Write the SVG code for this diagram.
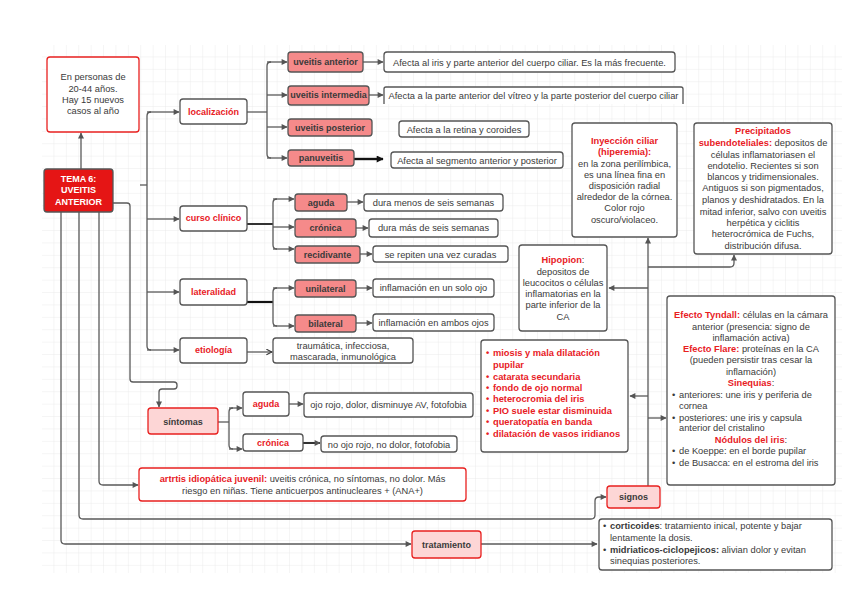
<svg xmlns="http://www.w3.org/2000/svg" width="848" height="599" viewBox="0 0 848 599">
<defs>
<pattern id="grid" x="42" y="45" width="12.4" height="12.4" patternUnits="userSpaceOnUse">
<path d="M12.4,0 V12.4 H0" fill="none" stroke="#e6e6e6" stroke-width="0.8"/>
</pattern>
<marker id="ar" viewBox="0 0 10 10" refX="9" refY="5" markerWidth="7" markerHeight="6" markerUnits="userSpaceOnUse" orient="auto">
<path d="M0,0 L10,5 L0,10 z" fill="#555"/>
</marker>
<marker id="arb" viewBox="0 0 10 10" refX="9" refY="5" markerWidth="8" markerHeight="7" markerUnits="userSpaceOnUse" orient="auto">
<path d="M0,0 L10,5 L0,10 z" fill="#111"/>
</marker>
<marker id="aro" viewBox="0 0 10 10" refX="9" refY="5" markerWidth="7" markerHeight="7" markerUnits="userSpaceOnUse" orient="auto">
<path d="M1,1 L9,5 L1,9" fill="none" stroke="#333" stroke-width="1.5"/>
</marker>
<style>
.t{font-family:"Liberation Sans",Arial,sans-serif;font-size:9.3px;fill:#3a3a3a}
.c{text-anchor:middle}
.r{fill:#e8201f;font-weight:bold}
.b{font-weight:bold}
.lb{font-weight:bold;font-size:9px}
.w{fill:#fff;font-weight:bold;font-size:9px}
.box{fill:#fff;stroke:#555;stroke-width:1.3}
.rbox{fill:#fff;stroke:#e8201f;stroke-width:1.3}
.sal{fill:#f58a8a;stroke:#555;stroke-width:1.3}
.pink{fill:#fdd6d6;stroke:#e8201f;stroke-width:1.3}
.ln{fill:none;stroke:#5a5a5a;stroke-width:1.3}
.ln2{fill:none;stroke:#333;stroke-width:2}
</style>
</defs>
<rect width="848" height="599" fill="#fff"/>
<rect x="42" y="45" width="800" height="528" fill="url(#grid)"/>

<g id="connectors">
<path class="ln" d="M81,169 V133" marker-end="url(#ar)"/>
<path class="ln" d="M140,185 H147"/>
<path class="ln" d="M151,112 Q147,112 147,116 V346 Q147,350 151,350"/>
<path class="ln" d="M147,112 H179" marker-end="url(#ar)"/>
<path class="ln" d="M147,219 H179" marker-end="url(#ar)"/>
<path class="ln" d="M147,292 H179" marker-end="url(#ar)"/>
<path class="ln" d="M147,350 H179" marker-end="url(#ar)"/>
<path class="ln" d="M247,112 H267"/>
<path class="ln" d="M271,62 Q267,62 267,66 V154 Q267,158 271,158"/>
<path class="ln" d="M267,62 H287" marker-end="url(#ar)"/>
<path class="ln" d="M267,95 H287" marker-end="url(#ar)"/>
<path class="ln" d="M267,127 H287" marker-end="url(#ar)"/>
<path class="ln" d="M267,158 H287" marker-end="url(#ar)"/>
<path class="ln" d="M363,62 H383" marker-end="url(#ar)"/>
<path class="ln" d="M369,95 H383" marker-end="url(#ar)"/>
<path d="M354,159 H383" fill="none" stroke="#111" stroke-width="2.4" marker-end="url(#arb)"/>
<path class="ln2" d="M247,224 H273"/>
<path class="ln" d="M277,199 Q273,199 273,203 V245 Q273,249 277,249"/>
<path class="ln" d="M273,199 H294" marker-end="url(#ar)"/>
<path class="ln" d="M273,227 H294" marker-end="url(#ar)"/>
<path class="ln" d="M273,249 H294" marker-end="url(#ar)"/>
<path class="ln" d="M347,202 H363" marker-end="url(#ar)"/>
<path class="ln" d="M356,228 H368" marker-end="url(#ar)"/>
<path class="ln" d="M360,254 H372" marker-end="url(#ar)"/>
<path d="M247,302 H273" fill="none" stroke="#111" stroke-width="2.2"/>
<path class="ln" d="M277,288 Q273,288 273,292 V322 Q273,326 277,326"/>
<path class="ln" d="M273,288 H294" marker-end="url(#ar)"/>
<path class="ln" d="M273,326 H294" marker-end="url(#ar)"/>
<path class="ln" d="M356,288 H372" marker-end="url(#ar)"/>
<path class="ln" d="M356,323 H372" marker-end="url(#ar)"/>
<path class="ln" d="M247,352 H272" marker-end="url(#aro)"/>
<path class="ln" d="M113,203 H127 Q130,203 130,206 V379 Q130,382 133,382 H174 Q177,382 177,385 V386 Q177,389 174,389 H162 Q159,389 159,392 V407" marker-end="url(#ar)"/>
<path class="ln" d="M218,422 H229"/>
<path class="ln" d="M233,408 Q229,408 229,412 V445 Q229,449 233,449"/>
<path class="ln" d="M229,408 H242" marker-end="url(#ar)"/>
<path class="ln" d="M229,449 H242" marker-end="url(#ar)"/>
<path class="ln" d="M289,404 H303" marker-end="url(#ar)"/>
<path class="ln2" d="M303,443 H320" marker-end="url(#ar)"/>
<path class="ln" d="M99,212 V481 Q99,485 103,485 H138" marker-end="url(#ar)"/>
<path class="ln" d="M79,212 V515 Q79,519 83,519 H591 Q595,519 595,515 V501 Q595,497 599,497 H606" marker-end="url(#ar)"/>
<path class="ln" d="M61,212 V540 Q61,544 65,544 H411" marker-end="url(#ar)"/>
<path class="ln" d="M481,544 H597" marker-end="url(#ar)"/>
<path class="ln" d="M648,486 V238" marker-end="url(#ar)"/>
<path class="ln" d="M648,267 H730 Q734,267 734,263 V255" marker-end="url(#ar)"/>
<path class="ln" d="M648,288 H609" marker-end="url(#ar)"/>
<path class="ln" d="M648,396 H630" marker-end="url(#ar)"/>
<path class="ln" d="M648,418 H666" marker-end="url(#ar)"/>
</g>

<g id="n-info">
<rect class="rbox" x="47" y="57" width="92" height="75" rx="3"/>
<text class="t c" font-size="9.8"><tspan x="93" y="80">En personas de</tspan><tspan x="93" y="92">20-44 años.</tspan><tspan x="93" y="103">Hay 15 nuevos</tspan><tspan x="93" y="114">casos al año</tspan></text>
</g>
<g id="n-tema">
<rect x="44" y="169" width="69" height="43" rx="3" fill="#e51515" stroke="#555" stroke-width="1.3"/>
<text class="t c w"><tspan x="78.5" y="181.5">TEMA 6:</tspan><tspan x="78.5" y="193">UVEITIS</tspan><tspan x="78.5" y="204.5">ANTERIOR</tspan></text>
</g>
<g id="n-localizacion"><rect class="box" x="180" y="99" width="67" height="25" rx="3"/><text class="t c r lb" x="213.5" y="115">localización</text></g>
<g id="n-curso"><rect class="box" x="180" y="206" width="67" height="25" rx="3"/><text class="t c r lb" x="213.5" y="221">curso clínico</text></g>
<g id="n-lateralidad"><rect class="box" x="180" y="279" width="67" height="26" rx="3"/><text class="t c r lb" x="213.5" y="295">lateralidad</text></g>
<g id="n-etiologia"><rect class="box" x="180" y="338" width="67" height="25" rx="3"/><text class="t c r lb" x="213.5" y="353">etiología</text></g>

<g id="n-uant"><rect class="sal" x="288" y="52" width="75" height="20" rx="3"/><text class="t c lb" x="325.5" y="65">uveitis anterior</text></g>
<g id="n-uint"><rect class="sal" x="288" y="86" width="81" height="19" rx="3"/><text class="t c lb" x="328.5" y="98">uveitis intermedia</text></g>
<g id="n-upos"><rect class="sal" x="288" y="119" width="84" height="17" rx="3"/><text class="t c lb" x="330" y="130.5">uveitis posterior</text></g>
<g id="n-pan"><rect class="sal" x="288" y="150" width="66" height="16" rx="3"/><text class="t c lb" x="321" y="161">panuveitis</text></g>

<g id="d-uant"><rect class="box" x="384" y="52" width="291" height="20" rx="3"/><text class="t c" x="529.5" y="65.5">Afecta al iris y parte anterior del cuerpo ciliar. Es la más frecuente.</text></g>
<g id="d-uint"><path d="M384,104 V89 Q384,87 386,87 H681 Q683,87 683,89 V104" fill="#fff" stroke="#555" stroke-width="1.3"/><text class="t c" x="533.5" y="98.5" font-size="9.1">Afecta a la parte anterior del vítreo y la parte posterior del cuerpo ciliar</text></g>
<g id="d-upos"><rect class="box" x="399" y="121" width="130" height="16" rx="3"/><text class="t c" x="464" y="132.5">Afecta a la retina y coroides</text></g>
<g id="d-pan"><rect class="box" x="391" y="152" width="172" height="16" rx="3"/><text class="t c" x="477" y="163.5">Afecta al segmento anterior y posterior</text></g>

<g id="n-inyeccion">
<rect class="box" x="572" y="123" width="105" height="114" rx="3"/>
<text class="t c"><tspan class="r" x="624.5" y="144">Inyección ciliar</tspan><tspan class="r" x="624.5" y="155">(hiperemia):</tspan><tspan x="624.5" y="167">en la zona perilímbica,</tspan><tspan x="624.5" y="178">es una línea fina en</tspan><tspan x="624.5" y="189">disposición radial</tspan><tspan x="624.5" y="200">alrededor de la córnea.</tspan><tspan x="624.5" y="211">Color rojo</tspan><tspan x="624.5" y="223">oscuro/violaceo.</tspan></text>
</g>
<g id="n-precipitados">
<rect class="box" x="694" y="123" width="138" height="131" rx="3"/>
<text class="t c" font-size="8.8"><tspan class="r" x="763" y="134">Precipitados</tspan><tspan x="763" y="146"><tspan class="r">subendoteliales:</tspan> depositos de</tspan><tspan x="763" y="158">células inflamatoriasen el</tspan><tspan x="763" y="169">endotelio. Recientes si son</tspan><tspan x="763" y="180">blancos y tridimensionales.</tspan><tspan x="763" y="191">Antiguos si son pigmentados,</tspan><tspan x="763" y="203">planos y deshidratados. En la</tspan><tspan x="763" y="215">mitad inferior, salvo con uveitis</tspan><tspan x="763" y="226">herpética y ciclitis</tspan><tspan x="763" y="237">heterocrómica de Fuchs,</tspan><tspan x="763" y="249">distribución difusa.</tspan></text>
</g>
<g id="n-hipopion">
<rect class="box" x="519" y="245" width="88" height="86" rx="3"/>
<text class="t c" font-size="9.9"><tspan x="563" y="263"><tspan class="r">Hipopion</tspan>:</tspan><tspan x="563" y="275">depositos de</tspan><tspan x="563" y="286">leucocitos o células</tspan><tspan x="563" y="297">inflamatorias en la</tspan><tspan x="563" y="308">parte inferior de la</tspan><tspan x="563" y="320">CA</tspan></text>
</g>

<g id="n-aguda1"><rect class="sal" x="295" y="194" width="52" height="17" rx="3"/><text class="t c lb" x="321" y="205.5">aguda</text></g>
<g id="n-cronica1"><rect class="sal" x="295" y="219" width="61" height="18" rx="3"/><text class="t c lb" x="325.5" y="231">crónica</text></g>
<g id="n-recid"><rect class="sal" x="295" y="246" width="65" height="17" rx="3"/><text class="t c lb" x="327.5" y="257.5">recidivante</text></g>
<g id="d-aguda1"><rect class="box" x="364" y="194" width="139" height="17" rx="3"/><text class="t c" x="433.5" y="205.5">dura menos de seis semanas</text></g>
<g id="d-cronica1"><rect class="box" x="369" y="219" width="129" height="18" rx="3"/><text class="t c" x="433.5" y="231">dura más de seis semanas</text></g>
<g id="d-recid"><rect class="box" x="373" y="246" width="135" height="16" rx="3"/><text class="t c" x="440.5" y="257.5">se repiten una vez curadas</text></g>

<g id="n-unilat"><rect class="sal" x="295" y="280" width="61" height="17" rx="3"/><text class="t c lb" x="325.5" y="291.5">unilateral</text></g>
<g id="n-bilat"><rect class="sal" x="295" y="315" width="61" height="17" rx="3"/><text class="t c lb" x="325.5" y="326.5">bilateral</text></g>
<g id="d-unilat"><rect class="box" x="373" y="279" width="121" height="18" rx="3"/><text class="t c" x="433.5" y="291">inflamación en un solo ojo</text></g>
<g id="d-bilat"><rect class="box" x="373" y="314" width="121" height="17" rx="3"/><text class="t c" x="433.5" y="325.5">inflamación en ambos ojos</text></g>
<g id="d-etiologia"><rect class="box" x="273" y="338" width="140" height="25" rx="3"/><text class="t c"><tspan x="343" y="348.5">traumática, infecciosa,</tspan><tspan x="343" y="359.5">mascarada, inmunológica</tspan></text></g>

<g id="n-signoslist">
<rect class="box" x="481" y="340" width="147" height="112" rx="3"/>
<text class="t r" font-size="8.6"><tspan x="486" y="356">•</tspan><tspan x="493" y="356">miosis y mala dilatación</tspan><tspan x="493" y="368">pupilar</tspan><tspan x="486" y="380">•</tspan><tspan x="493" y="380">catarata secundaria</tspan><tspan x="486" y="391">•</tspan><tspan x="493" y="391">fondo de ojo normal</tspan><tspan x="486" y="402">•</tspan><tspan x="493" y="402">heterocromia del iris</tspan><tspan x="486" y="414">•</tspan><tspan x="493" y="414">PIO suele estar disminuida</tspan><tspan x="486" y="425">•</tspan><tspan x="493" y="425">queratopatía en banda</tspan><tspan x="486" y="437">•</tspan><tspan x="493" y="437">dilatación de vasos iridianos</tspan></text>
</g>
<g id="n-efecto">
<rect class="box" x="667" y="296" width="168" height="189" rx="3"/>
<text class="t c" font-size="9.5"><tspan x="751" y="318"><tspan class="r">Efecto Tyndall:</tspan> células en la cámara</tspan><tspan x="751" y="330">anterior (presencia: signo de</tspan><tspan x="751" y="341">inflamación activa)</tspan><tspan x="751" y="352"><tspan class="r">Efecto Flare:</tspan> proteínas en la CA</tspan><tspan x="751" y="363">(pueden persistir tras cesar la</tspan><tspan x="751" y="375">inflamación)</tspan><tspan x="751" y="386"><tspan class="r">Sinequias</tspan>:</tspan><tspan x="751" y="443"><tspan class="r">Nódulos del iris</tspan>:</tspan></text>
<text class="t" font-size="9.5"><tspan x="672" y="398">•</tspan><tspan x="679" y="398">anteriores: une iris y periferia de</tspan><tspan x="679" y="409">cornea</tspan><tspan x="672" y="421">•</tspan><tspan x="679" y="421">posteriores: une iris y capsula</tspan><tspan x="679" y="431">anterior del cristalino</tspan><tspan x="672" y="454">•</tspan><tspan x="679" y="454">de Koeppe: en el borde pupilar</tspan><tspan x="672" y="466">•</tspan><tspan x="679" y="466">de Busacca: en el estroma del iris</tspan></text>
</g>

<g id="n-sintomas"><rect class="pink" x="148" y="408" width="70" height="26" rx="3"/><text class="t c lb" x="183" y="424.5" font-size="9.3">síntomas</text></g>
<g id="n-aguda2"><rect class="box" x="243" y="392" width="46" height="24" rx="3"/><text class="t c r lb" x="266" y="407">aguda</text></g>
<g id="n-cronica2"><rect class="box" x="243" y="434" width="60" height="17" rx="3"/><text class="t c r lb" x="273" y="445.5">crónica</text></g>
<g id="d-aguda2"><rect class="box" x="304" y="393" width="169" height="24" rx="3"/><text class="t c" x="388.5" y="408">ojo rojo, dolor, disminuye AV, fotofobia</text></g>
<g id="d-cronica2"><rect class="box" x="321" y="436" width="136" height="16" rx="3"/><text class="t c" x="389" y="447.5">no ojo rojo, no dolor, fotofobia</text></g>

<g id="n-artritis">
<rect class="rbox" x="139" y="468" width="327" height="33" rx="3"/>
<text class="t c" font-size="9.5"><tspan x="302.5" y="482"><tspan class="r">artrtis idiopática juvenil:</tspan> uveitis crónica, no síntomas, no dolor. Más</tspan><tspan x="302.5" y="493.5">riesgo en niñas. Tiene anticuerpos antinucleares + (ANA+)</tspan></text>
</g>
<g id="n-signos"><rect class="pink" x="607" y="486" width="53" height="22" rx="3"/><text class="t c lb" x="633.5" y="500">signos</text></g>
<g id="n-tratamiento"><rect class="pink" x="412" y="531" width="69" height="27" rx="3"/><text class="t c lb" x="446.5" y="547.5">tratamiento</text></g>
<g id="d-tratamiento">
<rect class="box" x="599" y="519" width="233" height="51" rx="3"/>
<text class="t" font-size="9.5"><tspan x="603" y="528.5">•</tspan><tspan x="610" y="528.5"><tspan class="b">corticoides</tspan>: tratamiento inical, potente y bajar</tspan><tspan x="610" y="540.5">lentamente la dosis.</tspan><tspan x="603" y="552.5">•</tspan><tspan x="610" y="552.5"><tspan class="b">midriaticos-ciclopejicos:</tspan> alivian dolor y evitan</tspan><tspan x="610" y="563.5">sinequias posteriores.</tspan></text>
</g>
</svg>
